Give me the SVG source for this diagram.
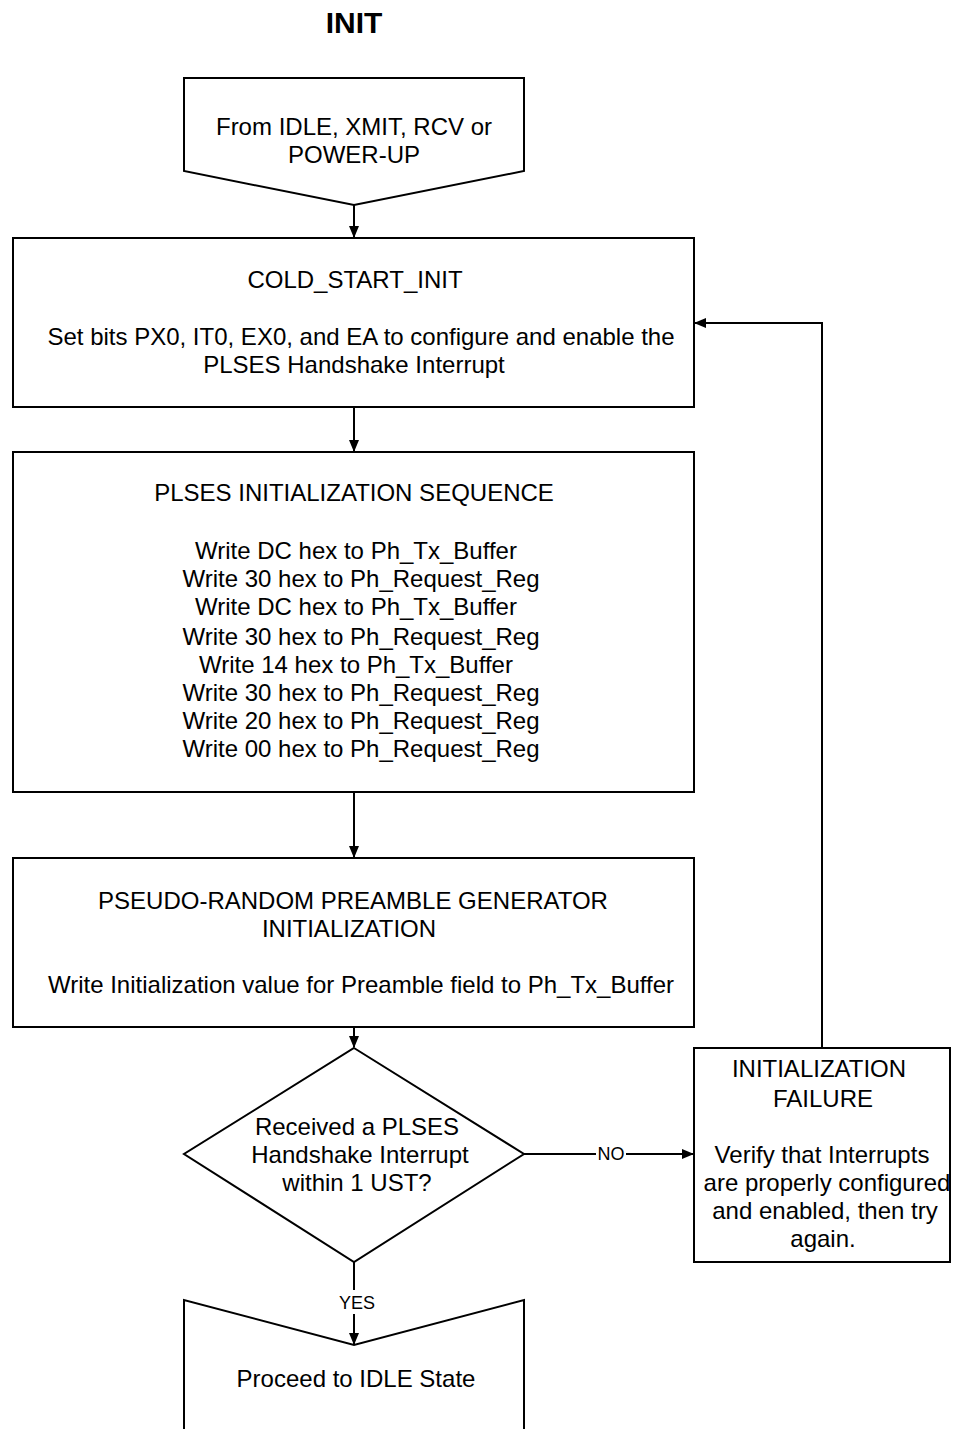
<svg xmlns="http://www.w3.org/2000/svg" width="953" height="1429" viewBox="0 0 953 1429">
<defs>
<marker id="arr" markerWidth="12" markerHeight="12" refX="11" refY="6" orient="auto" markerUnits="userSpaceOnUse">
<path d="M0,1 L12,6 L0,11 Z" fill="#000"/>
</marker>
<style>
.box{fill:#fff;stroke:#000;stroke-width:2}
.ln{fill:none;stroke:#000;stroke-width:2}
text{font-family:"Liberation Sans",Arial,sans-serif;font-size:24px;fill:#000;text-anchor:middle}
.sm{font-size:18px}
.title{font-size:30px;font-weight:bold}
</style>
</defs>
<rect width="953" height="1429" fill="#fff"/>
<text class="title" x="354" y="33">INIT</text>

<g id="connectors">
<line class="ln" x1="354" y1="205" x2="354" y2="237" marker-end="url(#arr)"/>
<line class="ln" x1="354" y1="407" x2="354" y2="451" marker-end="url(#arr)"/>
<line class="ln" x1="354" y1="792" x2="354" y2="857" marker-end="url(#arr)"/>
<line class="ln" x1="354" y1="1027" x2="354" y2="1047" marker-end="url(#arr)"/>
<line class="ln" x1="524" y1="1154" x2="596" y2="1154"/>
<line class="ln" x1="626" y1="1154" x2="693" y2="1154" marker-end="url(#arr)"/>
<text class="sm" x="611" y="1160">NO</text>
<polyline class="ln" points="822,1048 822,323 695,323" marker-end="url(#arr)"/>
<line class="ln" x1="354" y1="1262" x2="354" y2="1290"/>
<line class="ln" x1="354" y1="1314" x2="354" y2="1344" marker-end="url(#arr)"/>
<text class="sm" x="357" y="1309">YES</text>
</g>

<g id="start">
<polygon class="box" points="184,78 524,78 524,171 354,205 184,171"/>
<text x="354" y="135">From IDLE, XMIT, RCV or</text>
<text x="354" y="163">POWER-UP</text>
</g>

<g id="cold_start_init">
<rect class="box" x="13" y="238" width="681" height="169"/>
<text x="355" y="288">COLD_START_INIT</text>
<text x="361" y="345">Set bits PX0, IT0, EX0, and EA to configure and enable the</text>
<text x="354" y="373">PLSES Handshake Interrupt</text>
</g>

<g id="plses_init">
<rect class="box" x="13" y="452" width="681" height="340"/>
<text x="354" y="501">PLSES INITIALIZATION SEQUENCE</text>
<text x="356" y="559">Write DC hex to Ph_Tx_Buffer</text>
<text x="361" y="587">Write 30 hex to Ph_Request_Reg</text>
<text x="356" y="615">Write DC hex to Ph_Tx_Buffer</text>
<text x="361" y="645">Write 30 hex to Ph_Request_Reg</text>
<text x="356" y="673">Write 14 hex to Ph_Tx_Buffer</text>
<text x="361" y="701">Write 30 hex to Ph_Request_Reg</text>
<text x="361" y="729">Write 20 hex to Ph_Request_Reg</text>
<text x="361" y="757">Write 00 hex to Ph_Request_Reg</text>
</g>

<g id="preamble_init">
<rect class="box" x="13" y="858" width="681" height="169"/>
<text x="353" y="909">PSEUDO-RANDOM PREAMBLE GENERATOR</text>
<text x="349" y="937">INITIALIZATION</text>
<text x="361" y="993">Write Initialization value for Preamble field to Ph_Tx_Buffer</text>
</g>

<g id="decision">
<polygon class="box" points="354,1048 524,1154 354,1262 184,1154"/>
<text x="357" y="1135">Received a PLSES</text>
<text x="360" y="1163">Handshake Interrupt</text>
<text x="357" y="1191">within 1 UST?</text>
</g>

<g id="failure">
<rect class="box" x="694" y="1048" width="256" height="214"/>
<text x="819" y="1077">INITIALIZATION</text>
<text x="823" y="1107">FAILURE</text>
<text x="822" y="1163">Verify that Interrupts</text>
<text x="827" y="1191">are properly configured</text>
<text x="825" y="1219">and enabled, then try</text>
<text x="823" y="1247">again.</text>
</g>

<g id="idle">
<polyline class="box" points="184,1432 184,1300 354,1345 524,1300 524,1432"/>
<text x="356" y="1387">Proceed to IDLE State</text>
</g>
</svg>
